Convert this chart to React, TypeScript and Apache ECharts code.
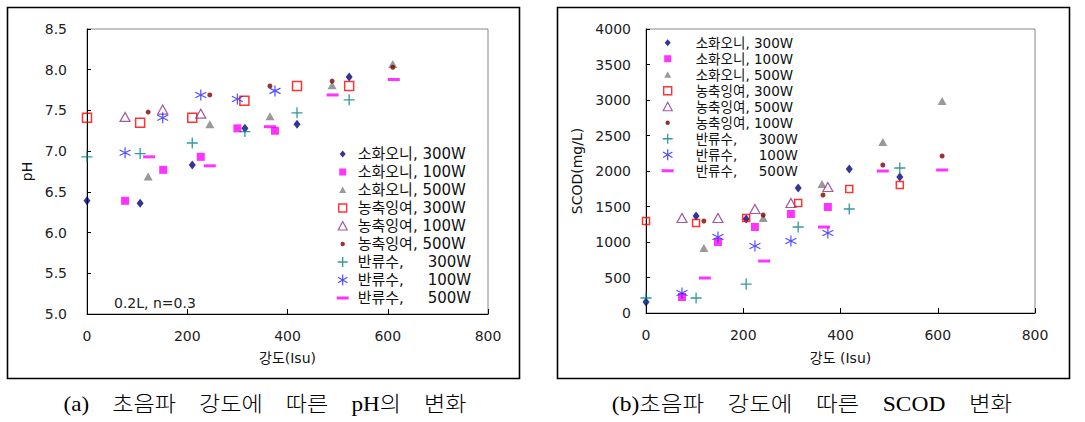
import React, { useEffect, useRef } from "react";
import * as echarts from "echarts";

// ---------- DATA ----------
const xTickValues = [0, 200, 400, 600, 800];

const phNames = [
  "소화오니, 300W",
  "소화오니, 100W",
  "소화오니, 500W",
  "농축잉여, 300W",
  "농축잉여, 100W",
  "농축잉여, 500W",
  "반류수,     300W",
  "반류수,     100W",
  "반류수,     500W",
];

const scodNames = [
  "소화오니, 300W",
  "소화오니, 100W",
  "소화오니, 500W",
  "농축잉여, 300W",
  "농축잉여, 500W",
  "농축잉여, 100W",
  "반류수,     300W",
  "반류수,     100W",
  "반류수,     500W",
];

// pH (left chart)
const phSludge300 = [[0, 6.39], [106, 6.36], [210, 6.83], [315, 7.28], [419, 7.33], [523, 7.91]];
const phSludge100 = [[76, 6.39], [152, 6.77], [227, 6.93], [300, 7.28], [375, 7.25]];
const phSludge500 = [[122, 6.69], [245, 7.33], [365, 7.43], [489, 7.81], [610, 8.07]];
const phWaste300 = [[0, 7.41], [106, 7.35], [210, 7.41], [314, 7.62], [419, 7.8], [523, 7.8]];
const phWaste100 = [[76, 7.42], [151, 7.51], [227, 7.46]];
const phWaste500 = [[122, 7.48], [245, 7.69], [365, 7.8], [489, 7.86], [610, 8.03]];
const phReturn300 = [[0, 6.93], [106, 6.97], [210, 7.1], [315, 7.24], [419, 7.47], [523, 7.63]];
const phReturn100 = [[76, 6.98], [151, 7.41], [227, 7.69], [300, 7.64], [375, 7.74]];
const phReturn500 = [[124, 6.93], [245, 6.82], [365, 7.3], [490, 7.69], [612, 7.88]];

// SCOD (right chart)
const scodSludge300 = [[0, 155], [103, 1366], [206, 1324], [313, 1761], [418, 2028], [522, 1915]];
const scodSludge100 = [[74, 225], [148, 1000], [224, 1211], [298, 1394], [374, 1493]];
const scodSludge500 = [[119, 915], [241, 1338], [362, 1817], [487, 2408], [609, 2986]];
const scodWaste300 = [[0, 1296], [103, 1268], [206, 1338], [313, 1549], [418, 1746], [522, 1803]];
const scodWaste500 = [[74, 1338], [148, 1338], [224, 1465], [298, 1549], [374, 1775]];
const scodWaste100 = [[119, 1296], [241, 1380], [364, 1662], [487, 2084], [609, 2211]];
const scodReturn300 = [[0, 211], [103, 211], [206, 408], [313, 1211], [418, 1465], [522, 2042]];
const scodReturn100 = [[74, 282], [148, 1070], [224, 944], [298, 1014], [374, 1127]];
const scodReturn500 = [[121, 493], [243, 732], [366, 1211], [487, 2000], [609, 2014]];

const phData = [phSludge300, phSludge100, phSludge500, phWaste300, phWaste100, phWaste500, phReturn300, phReturn100, phReturn500];
const scodData = [scodSludge300, scodSludge100, scodSludge500, scodWaste300, scodWaste500, scodWaste100, scodReturn300, scodReturn100, scodReturn500];

const captionA = "(a)    초음파    강도에    따른    pH의    변화";
const captionB = "(b)초음파    강도에    따른    SCOD    변화";

// ---------- STYLES ----------
const FONT = "'DejaVu Sans', 'Noto Sans CJK KR', sans-serif";
const SERIF = "'Liberation Serif', 'DejaVu Serif', 'Noto Sans CJK KR', serif";
const T = "rgba(0,0,0,0)";

// legend icon shapes drawn in a 12x12 cell at the left of a W-wide box
const iconShapes = [
  "M6,2.5L9,6L6,9.5L3,6Z",
  "M2.5,2.5L9.5,2.5L9.5,9.5L2.5,9.5Z",
  "M6,2.5L9.5,9L2.5,9Z",
  "M2,2L10,2L10,10L2,10Z",
  "M6,1.5L10.5,10L1.5,10Z",
  "M8.2,6A2.2,2.2,0,1,1,3.8,6A2.2,2.2,0,1,1,8.2,6Z",
  "M6,1L6,11M1,6L11,6",
  "M6,0.5L6,11.5M1.3,3.2L10.7,8.8M1.3,8.8L10.7,3.2",
  "M0,4.5L12,4.5L12,7.5L0,7.5Z",
];

const kinds = [
  { symbol: "diamond", size: [7, 9], itemStyle: { color: "#000080" }, iconStyle: { color: "#000080", borderWidth: 0 } },
  { symbol: "rect", size: 8, itemStyle: { color: "#ff00ff" }, iconStyle: { color: "#ff00ff", borderWidth: 0 } },
  { symbol: "triangle", size: [9, 8], itemStyle: { color: "#808080" }, iconStyle: { color: "#808080", borderWidth: 0 } },
  { symbol: "rect", size: 9, itemStyle: { color: T, borderColor: "#ff0000", borderWidth: 1.5 }, iconStyle: { color: T, borderColor: "#ff0000", borderWidth: 1.4 } },
  { symbol: "triangle", size: [10, 9], itemStyle: { color: T, borderColor: "#8b2f8b", borderWidth: 1.2 }, iconStyle: { color: T, borderColor: "#8b2f8b", borderWidth: 1.2 } },
  { symbol: "circle", size: 5, itemStyle: { color: "#800000" }, iconStyle: { color: "#800000", borderWidth: 0 } },
  { symbol: "path://M5,0L5,10M0,5L10,5", size: 11, itemStyle: { color: T, borderColor: "#008080", borderWidth: 1.3 }, iconStyle: { color: T, borderColor: "#008080", borderWidth: 1.3 } },
  { symbol: "path://M5,0L5,10M0.7,2.5L9.3,7.5M0.7,7.5L9.3,2.5", size: 11, itemStyle: { color: T, borderColor: "#2424ff", borderWidth: 1.2 }, iconStyle: { color: T, borderColor: "#2424ff", borderWidth: 1.2 } },
  { symbol: "rect", size: [12, 3], itemStyle: { color: "#ff00ff" }, iconStyle: { color: "#ff00ff", borderWidth: 0 } },
];

function buildSeries(names: string[], data: number[][][]) {
  return names.map((name, i) => ({
    type: "scatter",
    name,
    data: data[i],
    symbol: kinds[i].symbol,
    symbolSize: kinds[i].size,
    itemStyle: kinds[i].itemStyle,
    clip: false,
    emphasis: { disabled: true },
  }));
}

function buildLegendData(names: string[], boxW: number) {
  return names.map((name, i) => ({
    name,
    icon: `path://M0,0M${boxW},12${iconShapes[i]}`,
    itemStyle: kinds[i].iconStyle,
  }));
}

function axisCommon() {
  return {
    type: "value",
    axisLine: { show: true, lineStyle: { color: "#000", width: 1 } },
    axisTick: { show: true, inside: true, length: 5, lineStyle: { color: "#000", width: 1 } },
    splitLine: { show: false },
    axisLabel: { color: "#222", fontSize: 14, fontFamily: FONT },
    nameTextStyle: { color: "#111", fontSize: 14, fontFamily: FONT },
    nameLocation: "middle",
  };
}

function frame(x: number) {
  return {
    type: "rect",
    shape: { x, y: 7.5, width: 512, height: 371 },
    style: { fill: "none", stroke: "#000", lineWidth: 1.6 },
    silent: true,
  };
}

function caption(text: string, x: number, sx: number) {
  return {
    type: "text",
    x,
    y: 404,
    scaleX: sx,
    style: { text, fill: "#000", font: `300 21px ${SERIF}`, textAlign: "center", textVerticalAlign: "middle" },
    silent: true,
  };
}

const LEFT_ICON_W = 16;
const RIGHT_ICON_W = 29;

const leftOption = {
  animation: false,
  grid: { left: 87, top: 29, width: 401, height: 285, show: true, borderColor: "#888", borderWidth: 1, containLabel: false },
  xAxis: {
    ...axisCommon(),
    min: xTickValues[0],
    max: xTickValues[xTickValues.length - 1],
    interval: 200,
    axisLabel: { ...axisCommon().axisLabel, margin: 15 },
    name: "강도(Isu)",
    nameGap: 37,
  },
  yAxis: {
    ...axisCommon(),
    min: 5,
    max: 8.5,
    interval: 0.5,
    axisTick: { ...axisCommon().axisTick, length: 4 },
    axisLabel: { ...axisCommon().axisLabel, margin: 20, formatter: (v: number) => v.toFixed(1) },
    name: "pH",
    nameGap: 49,
    nameRotate: 90,
  },
  legend: {
    orient: "vertical",
    left: 331,
    top: 141.5,
    itemWidth: LEFT_ICON_W,
    itemHeight: 12,
    itemGap: 3.0,
    selectedMode: false,
    textStyle: { fontSize: 15, fontFamily: FONT, color: "#111" },
    data: buildLegendData(phNames, LEFT_ICON_W),
  },
  graphic: [
    frame(7.5),
    {
      type: "text",
      x: 114,
      y: 303,
      style: { text: "0.2L, n=0.3", fill: "#222", font: `14px ${FONT}`, textAlign: "left", textVerticalAlign: "middle" },
      silent: true,
    },
    caption(captionA, 265, 1.1),
  ],
  series: buildSeries(phNames, phData),
};

const rightOption = {
  animation: false,
  grid: { left: 106, top: 29, width: 389, height: 284, show: true, borderColor: "#888", borderWidth: 1, containLabel: false },
  xAxis: {
    ...axisCommon(),
    min: xTickValues[0],
    max: xTickValues[xTickValues.length - 1],
    interval: 200,
    axisLabel: { ...axisCommon().axisLabel, margin: 15 },
    name: "강도 (Isu)",
    nameGap: 38,
  },
  yAxis: {
    ...axisCommon(),
    min: 0,
    max: 4000,
    interval: 500,
    axisTick: { ...axisCommon().axisTick, length: 4 },
    axisLabel: { ...axisCommon().axisLabel, margin: 15, formatter: (v: number) => String(v) },
    name: "SCOD(mg/L)",
    nameGap: 62,
    nameRotate: 90,
  },
  legend: {
    orient: "vertical",
    left: 116,
    top: 31,
    itemWidth: RIGHT_ICON_W,
    itemHeight: 12,
    itemGap: 2.5,
    selectedMode: false,
    textStyle: { fontSize: 13.5, fontFamily: FONT, color: "#111" },
    data: buildLegendData(scodNames, RIGHT_ICON_W),
  },
  graphic: [frame(17.5), caption(captionB, 272, 1.12)],
  series: buildSeries(scodNames, scodData).map((s, i) => (i === 3 ? { ...s, symbolSize: 7 } : s)),
};

export default function App() {
  const leftRef = useRef<HTMLDivElement>(null);
  const rightRef = useRef<HTMLDivElement>(null);

  useEffect(() => {
    const l = echarts.init(leftRef.current as HTMLDivElement, null, { renderer: "svg" });
    const r = echarts.init(rightRef.current as HTMLDivElement, null, { renderer: "svg" });
    l.setOption(leftOption as any);
    r.setOption(rightOption as any);
    return () => {
      l.dispose();
      r.dispose();
    };
  }, []);

  return (
    <div style={{ position: "absolute", left: 0, top: 0, width: 1085, height: 422, background: "#fff" }}>
      <div ref={leftRef} style={{ position: "absolute", left: 0, top: 0, width: 540, height: 422 }} />
      <div ref={rightRef} style={{ position: "absolute", left: 540, top: 0, width: 545, height: 422 }} />
    </div>
  );
}
